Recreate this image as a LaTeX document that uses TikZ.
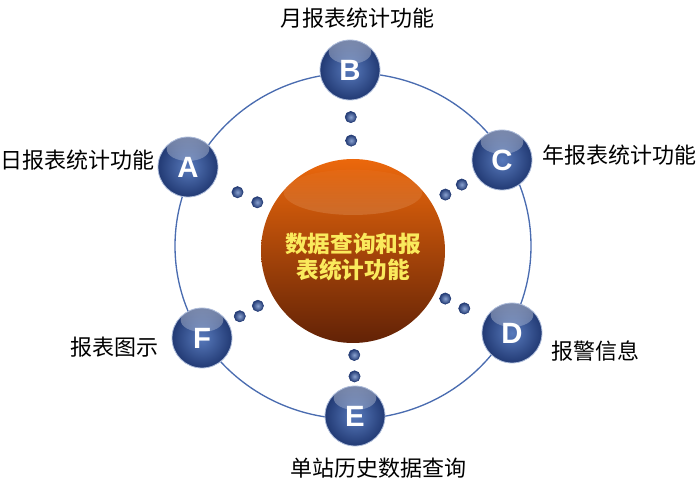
\documentclass[tikz,border=0pt]{standalone}
\usepackage{fontspec}
\setsansfont{Liberation Sans}
\newfontfamily\cjk{Noto Sans CJK SC}
\usetikzlibrary{positioning}
\usetikzlibrary{calc}
\usetikzlibrary{fadings}
\definecolor{ringc}{RGB}{74, 108, 176}
\definecolor{orbin}{RGB}{88, 122, 188}
\definecolor{orbout}{RGB}{34, 58, 116}
\definecolor{hubtop}{RGB}{236, 104, 12}
\definecolor{hubbot}{RGB}{98, 34, 6}
\definecolor{hubtext}{RGB}{250, 234, 92}

\begin{document}
\begin{tikzpicture}[x=0.75pt, y=-0.75pt]
    \tikzstyle{orb}=[circle, minimum size=45pt, inner sep=0pt, draw=white!55!ringc,
    line width=0.6pt, inner color=orbin, outer color=orbout, text=white,
    font=\sffamily\bfseries\fontsize{22}{22}\selectfont,
    path picture={\fill[white, opacity=0.4, path fading=south]
      ([yshift=-9pt]path picture bounding box.north) ellipse (16pt and 9pt);}]
    \tikzstyle{dot}=[circle, minimum size=8.5pt, inner sep=0pt, draw=orbout,
    line width=0.4pt, inner color=orbin!70!white, outer color=orbout]
    \tikzstyle{hubball}=[circle, minimum size=138pt, inner sep=0pt,
    top color=hubtop, bottom color=hubbot,
    path picture={\fill[white!75!orange, opacity=0.6, path fading=north]
      ([yshift=-25pt]path picture bounding box.north) ellipse (52pt and 17pt);}]
    \tikzstyle{lbl}=[font=\cjk\fontsize{16.5}{18}\selectfont, text=black]

    % Picture size
    \useasboundingbox (0, 0) rectangle (700, 488);

    % Outer ring
    \draw [line width=1pt, color=ringc] (353, 246) ellipse [x radius=178, y radius=173];

    % Centre ball
    \node [hubball] (hub) at (353, 251) {};
    \node [font=\cjk\bfseries\fontsize{17}{19.5}\selectfont, text=hubtext, align=center]
      (hubtxt) at (353, 257) {数据查询和报\\表统计功能};

    % Outer balls
    \node [orb] (A) at (188, 167) {A};
    \node [orb] (B) at (350, 70)  {B};
    \node [orb] (C) at (502, 160) {C};
    \node [orb] (D) at (512, 333) {D};
    \node [orb] (E) at (355, 416) {E};
    \node [orb] (F) at (202, 338) {F};

    % Dots between centre and outer balls
    \foreach \n/\p/\q in {A/.58/.70, B/.61/.74, C/.62/.73, D/.58/.70, E/.63/.76, F/.63/.75}
      {
        \node [dot] (\n1) at ($(hub)!\p!(\n)$) {};
        \node [dot] (\n2) at ($(hub)!\q!(\n)$) {};
      }

    % Labels
    \node [lbl] (labA) at (78, 160)  {日报表统计功能};
    \node [lbl] (labB) at (357, 18)  {月报表统计功能};
    \node [lbl] (labC) at (619, 155) {年报表统计功能};
    \node [lbl] (labD) at (595, 351) {报警信息};
    \node [lbl] (labE) at (378, 468) {单站历史数据查询};
    \node [lbl] (labF) at (114, 347) {报表图示};

\end{tikzpicture}
\end{document}
